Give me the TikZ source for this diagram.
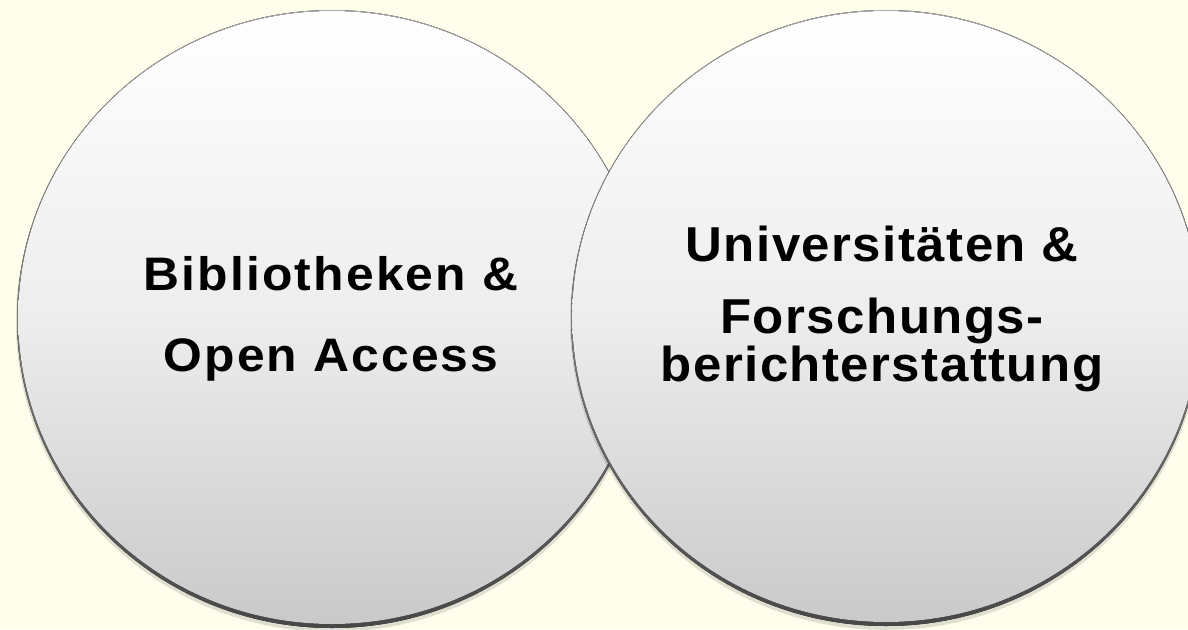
\documentclass[tikz,border=0pt]{standalone}
\usepackage{fontspec}
\setmainfont{Liberation Sans}
\newfontfamily\leftfont[FakeStretch=1.06,LetterSpace=4.5]{Liberation Sans}
\newfontfamily\rightfont[FakeStretch=1.04,LetterSpace=3]{Liberation Sans}
\usetikzlibrary{positioning}
\definecolor{cream}{RGB}{255,253,236}

\begin{document}
\begin{tikzpicture}[x=1pt,y=-1pt]
\tikzstyle{castshadow}=[black,opacity=0.12]
\tikzstyle{rim}=[top color=black!32, bottom color=black!72]
\tikzstyle{face}=[top color=white, bottom color=black!21, middle color=black!7]
\tikzstyle{label}=[align=center, inner sep=0pt]

\useasboundingbox[fill=cream] (0,0) rectangle (1188,629);

% left circle
\fill[castshadow] (332,322) ellipse [x radius=316, y radius=310];
\fill[rim] (332,319) ellipse [x radius=315, y radius=309];
\fill[face] (332,317.5) ellipse [x radius=313.8, y radius=306.5];

% right circle, drawn over the left one
\fill[castshadow] (886,321) ellipse [x radius=316, y radius=309];
\fill[rim] (886,318) ellipse [x radius=315, y radius=308];
\fill[face] (886,316.5) ellipse [x radius=313.8, y radius=305.5];

\node[label, font=\leftfont\bfseries\fontsize{47}{81}\selectfont] (bib) at (331,318.6)
  {Bibliotheken \&\\Open Access};
\node[label, font=\rightfont\bfseries\fontsize{49}{48}\selectfont] (uni) at (882,309)
  {Universitäten \&\\[24pt]Forschungs-\\berichterstattung};
\end{tikzpicture}
\end{document}
